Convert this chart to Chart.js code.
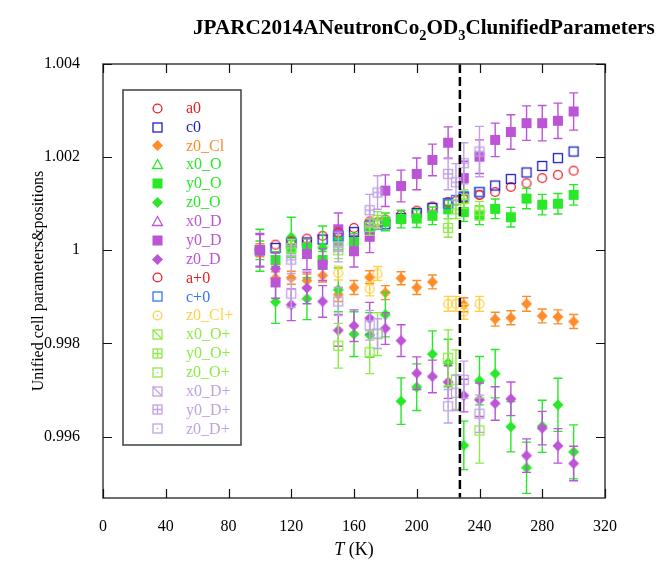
<!DOCTYPE html>
<html>
<head>
<meta charset="utf-8">
<script src="https://cdn.jsdelivr.net/npm/chart.js@4.4.0/dist/chart.umd.min.js"></script>
<style>
  html, body { margin: 0; padding: 0; background: #fff; }
</style>
</head>
<body>
<canvas id="myChart" width="661" height="572"></canvas>
<script>
// temperatures (K)
var temps = [100, 110, 120, 130, 140, 150, 160, 170, 180, 190, 200, 210, 220, 230, 240, 250, 260, 270, 280, 290, 300];
var tempsPlus = [120, 150, 170, 175, 220, 225, 230, 240];

// first data set, normalised to 100 K
var a0 = [1.0, 1.00012, 1.00019, 1.00025, 1.00031, 1.00038, 1.00048, 1.00058, 1.00066, 1.00076, 1.00085, 1.00094, 1.00103, 1.00110, 1.00119, 1.00125, 1.00136, 1.00144, 1.00155, 1.00162, 1.00171];
var c0 = [1.0, 1.00005, 1.00015, 1.00017, 1.00023, 1.00030, 1.00039, 1.00051, 1.00056, 1.00069, 1.00080, 1.00091, 1.00101, 1.00114, 1.00125, 1.00139, 1.00153, 1.00167, 1.00181, 1.00198, 1.00212];
var z0Cl = [1.0, 0.99940, 0.99941, 0.99935, 0.99946, 0.99905, 0.99920, 0.99942, 0.99909, 0.99940, 0.99920, 0.99932, null, 0.99883, null, 0.99852, 0.99855, 0.99885, 0.99859, 0.99857, 0.99847];
var z0ClErr = [0.00014, 0.00014, 0.00014, 0.00014, 0.00014, 0.00015, 0.00015, 0.00014, 0.00015, 0.00014, 0.00015, 0.00015, 0, 0.00015, 0, 0.00015, 0.00015, 0.00016, 0.00015, 0.00015, 0.00015];
var x0O = [];
var y0O = [1.0, 0.99979, 1.00003, 1.00006, 0.99979, 1.00020, 1.00018, 1.00045, 1.00061, 1.00067, 1.00068, 1.00074, 1.00088, 1.00082, 1.00075, 1.00089, 1.00071, 1.00111, 1.00098, 1.00100, 1.00119];
var y0OErr = [0.00020, 0.00018, 0.00018, 0.00018, 0.00018, 0.00018, 0.00018, 0.00018, 0.00019, 0.00019, 0.00019, 0.00019, 0.00020, 0.00020, 0.00020, 0.00021, 0.00021, 0.00022, 0.00022, 0.00022, 0.00022];
var z0O = [1.0, 0.99889, 1.00028, 0.99896, 1.00006, 0.99915, 0.99820, 0.99818, 0.99862, 0.99676, 0.99706, 0.99777, 0.99758, 0.99581, 0.99720, 0.99735, 0.99621, 0.99533, 0.99622, 0.99668, 0.99567];
var z0OErr = [0.00045, 0.00046, 0.00043, 0.00045, 0.00046, 0.00047, 0.00048, 0.00048, 0.00048, 0.00050, 0.00050, 0.00050, 0.00051, 0.00052, 0.00052, 0.00052, 0.00054, 0.00055, 0.00056, 0.00057, 0.00058];
var x0D = [];
var y0D = [1.0, 0.99931, null, 0.99992, 0.99969, 1.00045, 0.99998, 1.00029, 1.00128, 1.00138, 1.00164, 1.00194, 1.00231, 1.00155, 1.00201, 1.00237, 1.00254, 1.00273, 1.00273, 1.00278, 1.00298];
var y0DErr = [0.00036, 0.00034, 0, 0.00034, 0.00034, 0.00035, 0.00034, 0.00034, 0.00034, 0.00034, 0.00034, 0.00034, 0.00034, 0.00036, 0.00036, 0.00036, 0.00037, 0.00037, 0.00038, 0.00038, 0.00040];
var z0D = [1.0, 0.99960, 0.99883, 0.99919, 0.99890, 0.99828, 0.99838, 0.99854, 0.99832, 0.99806, 0.99736, 0.99729, 0.99717, 0.99688, 0.99679, 0.99671, 0.99681, 0.99559, 0.99618, 0.99580, 0.99542];
var z0DErr = [0.00034, 0.00034, 0.00034, 0.00034, 0.00034, 0.00034, 0.00034, 0.00034, 0.00034, 0.00034, 0.00035, 0.00035, 0.00035, 0.00035, 0.00036, 0.00036, 0.00036, 0.00036, 0.00036, 0.00037, 0.00037];

// second ("+") data set
var aPlus0 = [1.00019, 1.00038, 1.00062, 1.00060, 1.00103, 1.00106, 1.00112, 1.00119];
var cPlus0 = [1.00015, 1.00030, 1.00051, 1.00055, 1.00100, 1.00108, 1.00116, 1.00125];
var z0ClPlus = [null, 0.99951, 0.99917, 0.99950, 0.99885, 0.99885, 0.99868, 0.99885];
var z0ClPlusErr = [0, 0.00015, 0.00015, 0.00015, 0.00016, 0.00016, 0.00016, 0.00016];
var x0OPlus = [];
var y0OPlus = [1.00005, 1.00000, 1.00050, 1.00065, 1.00048, 1.00088, 1.00110, 1.00085];
var y0OPlusErr = [0.00018, 0.00018, 0.00018, 0.00018, 0.00020, 0.00020, 0.00020, 0.00020];
var z0OPlus = [null, 0.99795, 0.99781, 0.99820, 0.99769, 0.99722, null, 0.99613];
var z0OPlusErr = [0, 0.00048, 0.00046, 0.00046, 0.00060, 0.00064, 0, 0.00070];
var x0DPlus = [];
var y0DPlus = [0.99980, 1.00007, 1.00086, 1.00124, 1.00164, 1.00146, 1.00187, 1.00212];
var y0DPlusErr = [0.00030, 0.00032, 0.00034, 0.00036, 0.00034, 0.00040, 0.00044, 0.00054];
var z0DPlus = [0.99907, 0.99890, 0.99839, 0.99821, 0.99665, 0.99694, 0.99722, 0.99649];
var z0DPlusErr = [0.00030, 0.00030, 0.00032, 0.00032, 0.00036, 0.00038, 0.00040, 0.00040];

var xTicks = [0, 40, 80, 120, 160, 200, 240, 280, 320];
var yTicks = [0.996, 0.998, 1, 1.002, 1.004];
var dashT = 227.5;

var RED = 'rgb(232,32,36)', BLUE = 'rgb(30,30,195)', ORANGE = 'rgb(255,140,40)';
var GREEN = 'rgb(40,232,40)', PURPLE = 'rgb(188,84,214)', LBLUE = 'rgb(50,115,255)';
var YELLOW = 'rgb(255,208,70)', LGREEN = 'rgb(140,235,70)', LPURPLE = 'rgb(192,162,228)';

var series = [
  ['a0', temps, a0, null, 'circle', RED],
  ['c0', temps, c0, null, 'square', BLUE],
  ['z0_Cl', temps, z0Cl, z0ClErr, 'diamond', ORANGE],
  ['x0_O', temps, x0O, null, 'triangle', GREEN],
  ['y0_O', temps, y0O, y0OErr, 'squareFill', GREEN],
  ['z0_O', temps, z0O, z0OErr, 'diamond', GREEN],
  ['x0_D', temps, x0D, null, 'triangle', PURPLE],
  ['y0_D', temps, y0D, y0DErr, 'squareFill', PURPLE],
  ['z0_D', temps, z0D, z0DErr, 'diamond', PURPLE],
  ['a+0', tempsPlus, aPlus0, null, 'circle', RED],
  ['c+0', tempsPlus, cPlus0, null, 'square', LBLUE],
  ['z0_Cl+', tempsPlus, z0ClPlus, z0ClPlusErr, 'circleDot', YELLOW],
  ['x0_O+', tempsPlus, x0OPlus, null, 'squareDiag', LGREEN],
  ['y0_O+', tempsPlus, y0OPlus, y0OPlusErr, 'squareGrid', LGREEN],
  ['z0_O+', tempsPlus, z0OPlus, z0OPlusErr, 'squareDot', LGREEN],
  ['x0_D+', tempsPlus, x0DPlus, null, 'squareDiag', LPURPLE],
  ['y0_D+', tempsPlus, y0DPlus, y0DPlusErr, 'squareGrid', LPURPLE],
  ['z0_D+', tempsPlus, z0DPlus, z0DPlusErr, 'squareDot', LPURPLE]
];

function drawMarker(ctx, kind, color, x, y) {
  var s = 4.5;
  ctx.save();
  ctx.strokeStyle = color;
  ctx.fillStyle = color;
  ctx.lineWidth = 1.3;
  ctx.beginPath();
  if (kind == 'circle' || kind == 'circleDot') {
    ctx.arc(x, y, 4.4, 0, 2 * Math.PI);
    ctx.stroke();
    if (kind == 'circleDot') ctx.fillRect(x - 0.7, y - 0.7, 1.4, 1.4);
  } else if (kind == 'squareFill') {
    ctx.fillRect(x - s - 0.5, y - s - 0.5, 2 * s + 1, 2 * s + 1);
  } else if (kind == 'diamond') {
    ctx.moveTo(x, y - 5.5); ctx.lineTo(x + 5.5, y); ctx.lineTo(x, y + 5.5); ctx.lineTo(x - 5.5, y);
    ctx.closePath(); ctx.fill();
  } else if (kind == 'triangle') {
    ctx.moveTo(x, y - 5); ctx.lineTo(x + 5, y + 4); ctx.lineTo(x - 5, y + 4);
    ctx.closePath(); ctx.stroke();
  } else {
    ctx.strokeRect(x - s, y - s, 2 * s, 2 * s);
    if (kind == 'squareDiag') {
      ctx.moveTo(x - s, y - s); ctx.lineTo(x + s, y + s); ctx.stroke();
    } else if (kind == 'squareGrid') {
      ctx.moveTo(x, y - s); ctx.lineTo(x, y + s);
      ctx.moveTo(x - s, y); ctx.lineTo(x + s, y); ctx.stroke();
    } else if (kind == 'squareDot') {
      ctx.fillRect(x - 0.7, y - 0.7, 1.4, 1.4);
    }
  }
  ctx.restore();
}

function markerImage(kind, color) {
  var c = document.createElement('canvas');
  c.width = 16; c.height = 16;
  drawMarker(c.getContext('2d'), kind, color, 8, 8);
  return c;
}

var datasets = series.map(function (s, i) {
  var pts = [];
  s[2].forEach(function (v, k) {
    if (v !== null) pts.push({ x: s[1][k], y: v, e: s[3] ? s[3][k] : 0 });
  });
  return {
    label: s[0],
    data: pts,
    kind: s[4],
    color: s[5],
    pointStyle: markerImage(s[4], s[5]),
    pointRadius: 5,
    borderColor: s[5],
    backgroundColor: s[5],
    showLine: false,
    order: series.length - i
  };
});

var errorBars = {
  id: 'errorBars',
  beforeDatasetDraw: function (chart, args) {
    var ds = chart.data.datasets[args.index];
    var ys = chart.scales.y, ctx = chart.ctx;
    ctx.save();
    ctx.strokeStyle = ds.color;
    ctx.lineWidth = 1.4;
    args.meta.data.forEach(function (pt, k) {
      var d = ds.data[k];
      if (!d.e) return;
      var top = ys.getPixelForValue(d.y + d.e), bot = ys.getPixelForValue(d.y - d.e);
      ctx.beginPath();
      ctx.moveTo(pt.x, top); ctx.lineTo(pt.x, bot);
      ctx.moveTo(pt.x - 4.5, top); ctx.lineTo(pt.x + 4.5, top);
      ctx.moveTo(pt.x - 4.5, bot); ctx.lineTo(pt.x + 4.5, bot);
      ctx.stroke();
    });
    ctx.restore();
  }
};

var decorations = {
  id: 'decorations',
  afterDatasetsDraw: function (chart) {
    var ctx = chart.ctx, a = chart.chartArea, xs = chart.scales.x;
    // dashed line
    var dx = xs.getPixelForValue(dashT);
    ctx.save();
    ctx.strokeStyle = '#000';
    ctx.lineWidth = 2.5;
    ctx.setLineDash([9, 4]);
    ctx.beginPath();
    ctx.moveTo(dx, a.top); ctx.lineTo(dx, a.bottom);
    ctx.stroke();
    ctx.restore();
  },
  afterDraw: function (chart) {
    var ctx = chart.ctx, a = chart.chartArea, xs = chart.scales.x, ys = chart.scales.y;
    ctx.save();
    // frame
    ctx.strokeStyle = '#4a4a4a';
    ctx.lineWidth = 1.6;
    ctx.strokeRect(a.left, a.top, a.right - a.left, a.bottom - a.top);
    // inward ticks
    ctx.strokeStyle = '#111';
    ctx.lineWidth = 1.2;
    ctx.beginPath();
    xTicks.forEach(function (v) {
      var px = Math.round(xs.getPixelForValue(v)) + 0.5;
      ctx.moveTo(px, a.bottom); ctx.lineTo(px, a.bottom - 9);
      ctx.moveTo(px, a.top); ctx.lineTo(px, a.top + 9);
    });
    yTicks.forEach(function (v) {
      var py = Math.round(ys.getPixelForValue(v)) + 0.5;
      ctx.moveTo(a.left, py); ctx.lineTo(a.left + 9, py);
      ctx.moveTo(a.right, py); ctx.lineTo(a.right - 9, py);
    });
    ctx.stroke();

    // title with subscripts, fitted between x=193 and x=655
    var parts = [['JPARC2014ANeutronCo', 0], ['2', 1], ['OD', 0], ['3', 1], ['ClunifiedParameters', 0]];
    var bigSize = 22, total = 0;
    parts.forEach(function (p) {
      ctx.font = 'bold ' + (p[1] ? 15 : 22) + 'px "Liberation Serif"';
      total += ctx.measureText(p[0]).width;
    });
    var k = Math.min(1, 462 / total);
    var tx = 655 - total * k;
    ctx.fillStyle = '#000';
    ctx.textBaseline = 'alphabetic';
    ctx.textAlign = 'left';
    parts.forEach(function (p) {
      ctx.font = 'bold ' + ((p[1] ? 15 : 22) * k).toFixed(2) + 'px "Liberation Serif"';
      ctx.fillText(p[0], tx, p[1] ? 40 : 34);
      tx += ctx.measureText(p[0]).width;
    });

    // axis titles
    ctx.font = '16px "Liberation Serif"';
    ctx.save();
    ctx.translate(39, (a.top + a.bottom) / 2);
    ctx.rotate(-Math.PI / 2);
    ctx.textAlign = 'center';
    ctx.textBaseline = 'middle';
    ctx.fillText('Unified cell parameters&positions', 0, 0);
    ctx.restore();

    ctx.font = 'italic 18px "Liberation Serif"';
    var wT = ctx.measureText('T').width;
    ctx.font = '18px "Liberation Serif"';
    var wK = ctx.measureText(' (K)').width;
    var sx = (a.left + a.right) / 2 - (wT + wK) / 2;
    ctx.font = 'italic 18px "Liberation Serif"';
    ctx.fillText('T', sx, 555);
    ctx.font = '18px "Liberation Serif"';
    ctx.fillText(' (K)', sx + wT, 555);

    // legend box
    ctx.fillStyle = '#fff';
    ctx.fillRect(123, 90, 118, 355);
    ctx.strokeStyle = '#4a4a4a';
    ctx.lineWidth = 1.6;
    ctx.strokeRect(123, 90, 118, 355);
    ctx.font = '16px "Liberation Serif"';
    ctx.textBaseline = 'middle';
    chart.data.datasets.forEach(function (ds, i) {
      var ly = 107.7 + i * 18.86;
      drawMarker(ctx, ds.kind, ds.color, 157.5, Math.round(ly) + 0.5);
      ctx.fillStyle = ds.color;
      ctx.fillText(ds.label, 186, ly + 1);
    });
    ctx.restore();
  }
};

var ctx = document.getElementById('myChart').getContext('2d');
var myChart = new Chart(ctx, {
  type: 'scatter',
  data: { datasets: datasets },
  options: {
    responsive: false,
    animation: false,
    layout: { padding: { top: 64, right: 56, left: 0, bottom: 0 } },
    plugins: { legend: { display: false }, tooltip: { enabled: false } },
    scales: {
      x: {
        type: 'linear',
        min: 0, max: 320,
        grid: { display: false },
        border: { display: false },
        afterBuildTicks: function (s) { s.ticks = xTicks.map(function (v) { return { value: v }; }); },
        afterFit: function (s) { s.height = 74; },
        ticks: { color: '#000', padding: 11, maxRotation: 0, font: { family: 'Liberation Serif', size: 16 } }
      },
      y: {
        type: 'linear',
        min: 0.99468, max: 1.004,
        grid: { display: false },
        border: { display: false },
        afterBuildTicks: function (s) { s.ticks = yTicks.map(function (v) { return { value: v }; }); },
        afterFit: function (s) { s.width = 103; },
        ticks: {
          color: '#000', padding: 15,
          font: { family: 'Liberation Serif', size: 16 },
          callback: function (v) { return String(+v.toFixed(3)); }
        }
      }
    }
  },
  plugins: [errorBars, decorations]
});
</script>
</body>
</html>
